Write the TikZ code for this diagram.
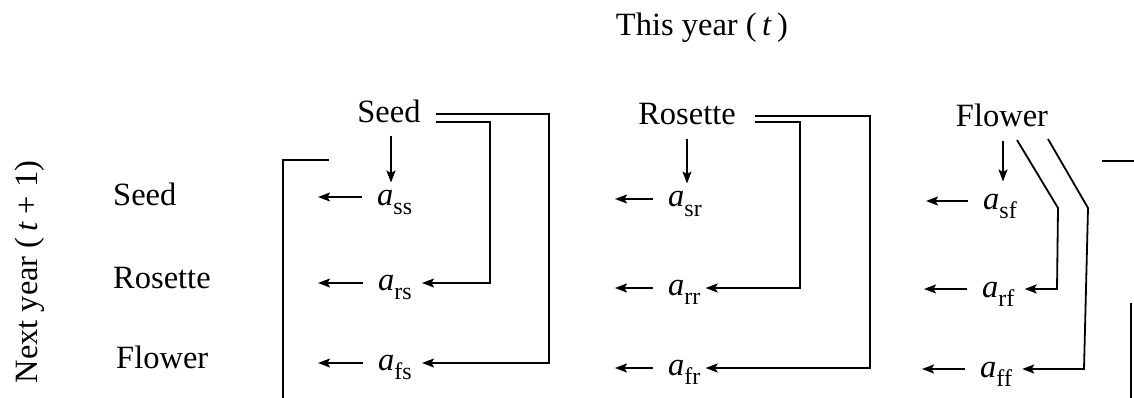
\documentclass[tikz,border=0pt]{standalone}
\usepackage{fontspec}
\setmainfont{Liberation Serif}
\usetikzlibrary{arrows.meta}
\newcommand{\ent}[1]{\textit{a}\raisebox{-0.28em}{\fontsize{24}{24}\selectfont #1}}
\tikzset{
  txt/.style={inner sep=0pt, font=\fontsize{32.5}{38}\selectfont},
  arr/.style={line width=1.8pt, -{Stealth[length=12pt,width=9pt,inset=2.5pt]}},
  ln/.style={line width=1.8pt},
}
\begin{document}
\begin{tikzpicture}[x=1pt,y=-1pt]
\useasboundingbox (0,0) rectangle (1134,398);
% titles
\node[txt, anchor=base] (this) at (702,36) {This year (\,\textit{t}\,)};
\node[txt, rotate=90] (next) at (30,272) {Next year (\,\textit{t} + 1)};
% row labels
\node[txt, anchor=base west] (rs) at (113,205) {Seed};
\node[txt, anchor=base west] (rr) at (113,288) {Rosette};
\node[txt, anchor=base west] (rf) at (116,368) {Flower};
% column headers
\node[txt, anchor=base] (cs) at (389,123) {Seed};
\node[txt, anchor=base] (cr) at (687,125) {Rosette};
\node[txt, anchor=base] (cf) at (1002,127) {Flower};
% entries
\node[txt, anchor=base west] (ass) at (377,205) {\ent{ss}};
\node[txt, anchor=base west] (ars) at (378,290) {\ent{rs}};
\node[txt, anchor=base west] (afs) at (378,370) {\ent{fs}};
\node[txt, anchor=base west] (asr) at (668,207) {\ent{sr}};
\node[txt, anchor=base west] (arr) at (668,295) {\ent{rr}};
\node[txt, anchor=base west] (afr) at (668,375) {\ent{fr}};
\node[txt, anchor=base west] (asf) at (983,209) {\ent{sf}};
\node[txt, anchor=base west] (arf) at (982,297) {\ent{rf}};
\node[txt, anchor=base west] (aff) at (980,377) {\ent{ff}};
% arrow tip coordinates (left arrows)
\coordinate (tss) at (318,197);
\coordinate (trs) at (318,283);
\coordinate (tfs) at (318,363);
\coordinate (tsr) at (615,199);
\coordinate (trr) at (615,288);
\coordinate (tfr) at (615,368);
\coordinate (tsf) at (926,201);
\coordinate (trf) at (924,289);
\coordinate (tff) at (922,369);
\foreach \n in {ss,rs,fs,sr,rr,fr,sf,rf,ff}{
  \draw[arr, shorten <=15pt] (a\n.west |- t\n) -- (t\n);
}
% down arrows
\draw[arr, shorten <=12pt, shorten >=7pt] ([xshift=2pt]cs.south) -- ([xshift=2pt]cs.south |- ass.north);
\draw[arr, shorten <=13pt, shorten >=8pt] (cr.south) -- (cr.south |- asr.north);
\draw[arr, shorten <=13pt, shorten >=12pt] ([xshift=1pt]cf.south) -- ([xshift=1pt]cf.south |- asf.north);
% Seed column connectors
\coordinate (s1) at (436,114);
\coordinate (s2) at (436,122);
\draw[arr] (s2) -| (490,283) -- ([xshift=10pt]ars.east |- trs);
\draw[arr] (s1) -| (549,363) -- ([xshift=10pt]afs.east |- tfs);
% Rosette column connectors
\coordinate (r1) at (755,116);
\coordinate (r2) at (755,122);
\draw[arr] (r2) -| (800,288) -- ([xshift=5pt]arr.east |- trr);
\draw[arr] (r1) -| (870,368) -- ([xshift=5pt]afr.east |- tfr);
% Flower column connectors
\coordinate (f1) at (1017,140);
\coordinate (f2) at (1048,139);
\draw[arr] (f1) -- (1058,208) -- (1057,289) -- ([xshift=10pt]arf.east |- trf);
\draw[arr] (f2) -- (1088,208) -- (1084,369) -- ([xshift=10pt]aff.east |- tff);
% matrix brackets
\draw[ln] (329,160) -- (283,160) -- (283,398);
\draw[ln] (1102,161) -- (1134,161);
\draw[ln] (1131,303) -- (1131,398);
\end{tikzpicture}
\end{document}
